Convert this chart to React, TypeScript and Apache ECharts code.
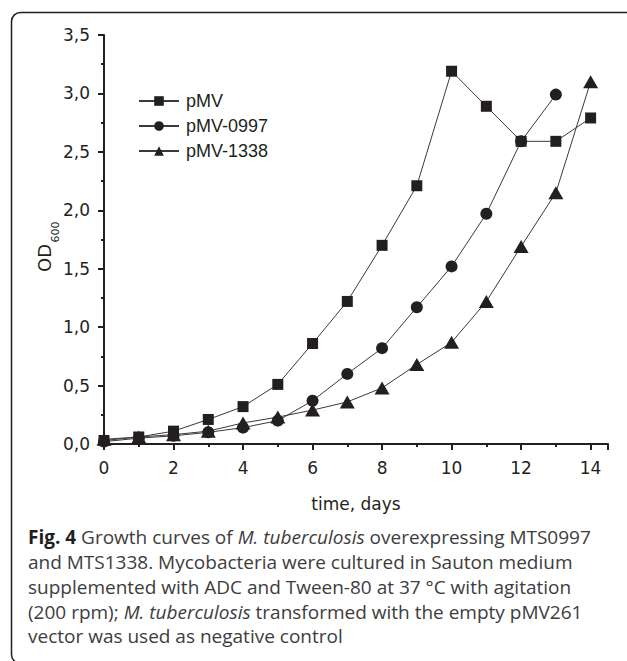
import React, { useEffect, useRef } from "react";
import * as echarts from "echarts";

const days = [0, 1, 2, 3, 4, 5, 6, 7, 8, 9, 10, 11, 12, 13, 14];
const pMV = [0.03, 0.06, 0.11, 0.21, 0.32, 0.51, 0.86, 1.22, 1.7, 2.21, 3.19, 2.89, 2.59, 2.59, 2.79];
const pMV0997 = [0.02, 0.05, 0.07, 0.1, 0.14, 0.2, 0.37, 0.6, 0.82, 1.17, 1.52, 1.97, 2.59, 2.99];
const pMV1338 = [0.04, 0.06, 0.08, 0.11, 0.18, 0.23, 0.29, 0.36, 0.48, 0.68, 0.87, 1.22, 1.69, 2.15, 3.1];
const seriesNames = ["pMV", "pMV-0997", "pMV-1338"];
const xTitle = "time, days";
const yTitleMain = "OD";
const yTitleSub = "600";
const captionLines = [
  "{b|Fig. 4} Growth curves of {i|M. tuberculosis} overexpressing MTS0997",
  "and MTS1338. Mycobacteria were cultured in Sauton medium",
  "supplemented with ADC and Tween-80 at 37 °C with agitation",
  "(200 rpm); {i|M. tuberculosis} transformed with the empty pMV261",
  "vector was used as negative control",
];

const INK = "#231f20";
const AXIS_FONT = "DejaVu Sans";
const CAP_FONT = "Open Sans";

export default function App() {
  const ref = useRef<HTMLDivElement>(null);
  useEffect(() => {
    document.body.style.margin = "0";
    const chart = echarts.init(ref.current!, undefined, { renderer: "svg" });
    const pair = (arr: number[]) => arr.map((v, i) => [days[i], v]);
    const lineStyle = { color: "#3a3a3a", width: 1 };
    const itemStyle = { color: INK };
    const capY = [537, 562, 587, 612, 636];
    const capSize = 19;
    chart.setOption({
      animation: false,
      backgroundColor: "#ffffff",
      grid: { left: 104, right: 19, top: 35, bottom: 217, containLabel: false },
      xAxis: {
        type: "value",
        min: 0,
        max: 14.5,
        interval: 2,
        axisLine: { show: true, lineStyle: { color: INK, width: 2 } },
        axisTick: { show: true, length: 6, lineStyle: { color: INK, width: 2 } },
        minorTick: { show: true, splitNumber: 2, length: 3, lineStyle: { color: INK, width: 2 } },
        splitLine: { show: false },
        axisLabel: {
          margin: 15,
          color: INK,
          fontFamily: AXIS_FONT,
          fontSize: 17,
          formatter: (v: number) => (v > 14 ? "" : String(v)),
        },
        name: xTitle,
        nameLocation: "middle",
        nameGap: 51,
        nameTextStyle: { color: INK, fontFamily: AXIS_FONT, fontSize: 17 },
      },
      yAxis: {
        type: "value",
        min: 0,
        max: 3.5,
        interval: 0.5,
        offset: 4,
        axisLine: { show: true, lineStyle: { color: INK, width: 2 } },
        axisTick: { show: true, length: 6, lineStyle: { color: INK, width: 2 } },
        minorTick: { show: true, splitNumber: 2, length: 3, lineStyle: { color: INK, width: 2 } },
        splitLine: { show: false },
        axisLabel: {
          margin: 10,
          color: INK,
          fontFamily: AXIS_FONT,
          fontSize: 17,
          formatter: (v: number) => v.toFixed(1).replace(".", ","),
        },
      },
      legend: {
        orient: "vertical",
        left: 138,
        top: 92,
        padding: 0,
        itemWidth: 40,
        itemHeight: 12,
        itemGap: 7,
        data: seriesNames,
        textStyle: { color: INK, fontFamily: "Liberation Sans", fontSize: 18, padding: [0, 0, 0, 2] },
      },
      series: [
        {
          name: seriesNames[2],
          type: "line",
          data: pair(pMV1338),
          symbol: "triangle",
          symbolSize: [15, 13],
          lineStyle,
          itemStyle,
        },
        {
          name: seriesNames[1],
          type: "line",
          data: pair(pMV0997),
          symbol: "circle",
          symbolSize: 12,
          lineStyle,
          itemStyle,
        },
        {
          name: seriesNames[0],
          type: "line",
          data: pair(pMV),
          symbol: "rect",
          symbolSize: 11,
          lineStyle,
          itemStyle,
        },
      ],
      graphic: [
        {
          type: "rect",
          shape: { x: 11.5, y: 12.5, width: 800, height: 651, r: [9, 0, 0, 9] },
          style: { fill: "none", stroke: INK, lineWidth: 1.5 },
          silent: true,
        },
        {
          type: "line",
          shape: { x1: 99, y1: 444, x2: 105, y2: 444 },
          style: { stroke: INK, lineWidth: 2 },
        },
        {
          type: "text",
          x: 44,
          y: 258,
          rotation: Math.PI / 2,
          style: {
            text: yTitleMain,
            fill: INK,
            fontFamily: AXIS_FONT,
            fontSize: 18,
            align: "center",
            verticalAlign: "middle",
          },
        },
        {
          type: "text",
          x: 55,
          y: 232,
          rotation: Math.PI / 2,
          style: {
            text: yTitleSub,
            fill: INK,
            fontFamily: AXIS_FONT,
            fontSize: 11,
            align: "center",
            verticalAlign: "middle",
          },
        },
        ...captionLines.map((t, i) => ({
          type: "text",
          x: 28,
          y: capY[i],
          style: {
            text: t,
            fill: "#3d3d3d",
            fontFamily: CAP_FONT,
            fontSize: capSize,
            align: "left",
            verticalAlign: "middle",
            rich: {
              b: { fontWeight: "bold", fontFamily: CAP_FONT, fontSize: capSize, fill: "#231f20" },
              i: { fontStyle: "italic", fontFamily: CAP_FONT, fontSize: capSize, fill: "#3d3d3d" },
            },
          },
        })),
      ],
    });
    return () => chart.dispose();
  }, []);
  return <div ref={ref} style={{ width: 627, height: 661 }} />;
}
